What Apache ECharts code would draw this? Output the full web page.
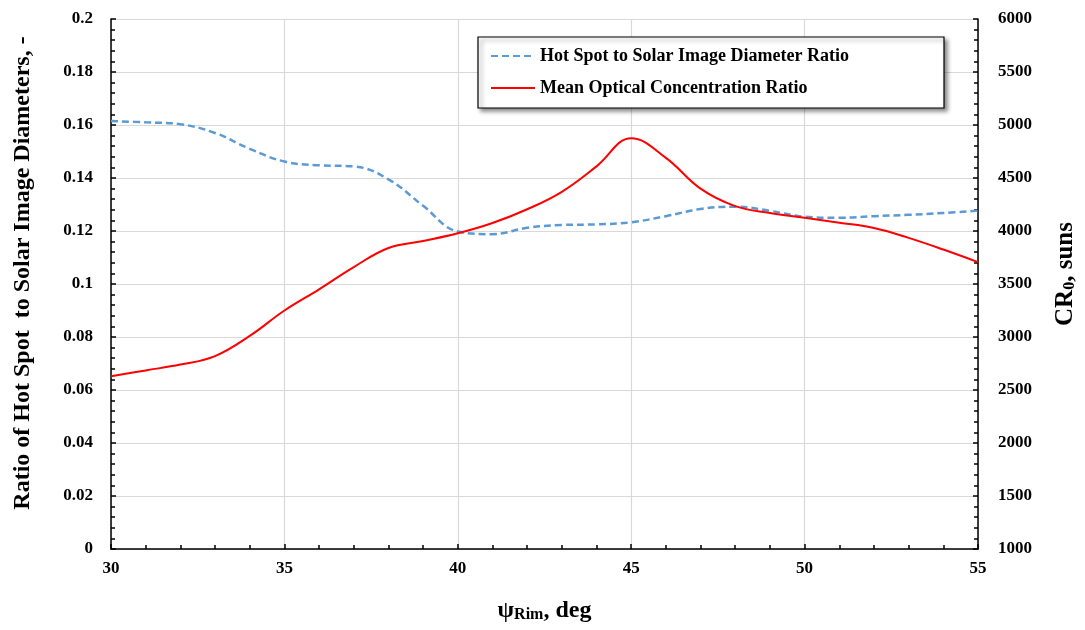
<!DOCTYPE html>
<html>
<head>
<meta charset="utf-8">
<script src="https://cdn.jsdelivr.net/npm/echarts@6/dist/echarts.min.js"></script>
<style>
  html, body { margin: 0; padding: 0; background: #fff; }
  #chart { width: 1085px; height: 630px; }
</style>
</head>
<body>
<div id="chart"></div>
<script>
// rim angle, deg
var rimAngle = [30, 31, 32, 33, 34, 35, 36, 37, 38, 39, 40, 41, 42, 43, 44, 45, 46, 47, 48, 49, 50, 51, 52, 53, 54, 55];
// hot spot / solar image diameter ratio (left axis)
var hotSpotRatio = [0.1615, 0.161, 0.1603, 0.157, 0.151, 0.1462, 0.1448, 0.1444, 0.1395, 0.1295, 0.1198, 0.1188, 0.1212, 0.1223, 0.1225, 0.1233, 0.1256, 0.1283, 0.1292, 0.1276, 0.1254, 0.125, 0.1256, 0.1261, 0.1268, 0.1277];
// mean optical concentration ratio, suns (right axis)
var concRatio = [2630, 2685, 2740, 2820, 3010, 3250, 3450, 3660, 3840, 3905, 3978, 4075, 4205, 4370, 4610, 4875, 4690, 4400, 4235, 4170, 4125, 4078, 4028, 3935, 3825, 3706];

var FONT = 'Liberation Serif, Times New Roman, serif';

function pairs(xs, ys) {
    return xs.map(function (x, i) { return [x, ys[i]]; });
}

var tickStyle = { show: true, inside: true, length: 5, lineStyle: { color: '#000', width: 1.5 } };
var minorStyle = { show: true, splitNumber: 5, length: 4, lineStyle: { color: '#000', width: 1.5 } };
var gridLine = { show: true, lineStyle: { color: '#d9d9d9', width: 1.2 } };
var labelStyle = { color: '#000', fontFamily: FONT, fontWeight: 'bold', fontSize: 17 };

var chart = echarts.init(document.getElementById('chart'));
chart.setOption({
    animation: false,
    backgroundColor: '#fff',
    grid: { left: 111, right: 107, top: 19, bottom: 81, outerBoundsMode: 'none' },
    graphic: [{
        type: 'rect',
        z: 3,
        shape: { x: 478, y: 37, width: 466, height: 71 },
        style: {
            fill: '#fff', stroke: '#000', lineWidth: 1.2,
            shadowColor: 'rgba(0,0,0,0.45)', shadowBlur: 4, shadowOffsetX: 3, shadowOffsetY: 3
        }
    }],
    legend: {
        z: 5,
        orient: 'vertical',
        left: 490,
        top: 47,
        padding: 0,
        itemGap: 14,
        itemWidth: 44,
        itemHeight: 18,
        itemStyle: { opacity: 0 },
        textStyle: { color: '#000', fontFamily: FONT, fontWeight: 'bold', fontSize: 18 },
        data: ['Hot Spot to Solar Image Diameter Ratio', 'Mean Optical Concentration Ratio']
    },
    xAxis: {
        type: 'value',
        min: 30, max: 55, interval: 5,
        name: '{a|ψ}{b|Rim}{a|, deg}',
        nameLocation: 'middle',
        nameGap: 46,
        nameTextStyle: {
            rich: {
                a: { fontFamily: FONT, fontWeight: 'bold', fontSize: 24, color: '#000', verticalAlign: 'bottom', lineHeight: 28 },
                b: { fontFamily: FONT, fontWeight: 'bold', fontSize: 16, color: '#000', verticalAlign: 'bottom', lineHeight: 22 }
            }
        },
        axisLine: { show: true, onZero: false, lineStyle: { color: '#000', width: 1.5 } },
        axisTick: tickStyle,
        minorTick: minorStyle,
        splitLine: gridLine,
        axisLabel: Object.assign({ margin: 11 }, labelStyle)
    },
    yAxis: [{
        type: 'value',
        min: 0, max: 0.2, interval: 0.02,
        name: 'Ratio of Hot Spot  to Solar Image Diameters, -',
        nameLocation: 'middle',
        nameGap: 76,
        nameTextStyle: { fontFamily: FONT, fontWeight: 'bold', fontSize: 24, color: '#000', padding: [0, 0, 0, 22] },
        axisLine: { show: true, lineStyle: { color: '#000', width: 1.5 } },
        axisTick: tickStyle,
        minorTick: minorStyle,
        splitLine: gridLine,
        axisLabel: Object.assign({ margin: 18 }, labelStyle)
    }, {
        type: 'value',
        position: 'right',
        min: 1000, max: 6000, interval: 500,
        name: '{a|CR}{b|0}{a|, suns}',
        nameLocation: 'middle',
        nameGap: 72,
        nameRotate: 90,
        nameTextStyle: {
            padding: [0, 0, 0, 20],
            rich: {
                a: { fontFamily: FONT, fontWeight: 'bold', fontSize: 25, color: '#000', verticalAlign: 'bottom', lineHeight: 28 },
                b: { fontFamily: FONT, fontWeight: 'bold', fontSize: 16, color: '#000', verticalAlign: 'bottom', lineHeight: 22 }
            }
        },
        axisLine: { show: true, lineStyle: { color: '#000', width: 1.5 } },
        axisTick: tickStyle,
        minorTick: minorStyle,
        splitLine: { show: false },
        axisLabel: Object.assign({ margin: 20, formatter: function (v) { return String(v); } }, labelStyle)
    }],
    series: [{
        name: 'Hot Spot to Solar Image Diameter Ratio',
        type: 'line',
        yAxisIndex: 0,
        smooth: 0.4,
        showSymbol: false,
        symbol: 'none',
        lineStyle: { color: '#5b9bd5', width: 2.5, type: [7, 4] },
        itemStyle: { color: '#5b9bd5' },
        data: pairs(rimAngle, hotSpotRatio)
    }, {
        name: 'Mean Optical Concentration Ratio',
        type: 'line',
        yAxisIndex: 1,
        smooth: 0.4,
        showSymbol: false,
        symbol: 'none',
        lineStyle: { color: '#ff0000', width: 2 },
        itemStyle: { color: '#ff0000' },
        data: pairs(rimAngle, concRatio)
    }]
});
</script>
</body>
</html>
